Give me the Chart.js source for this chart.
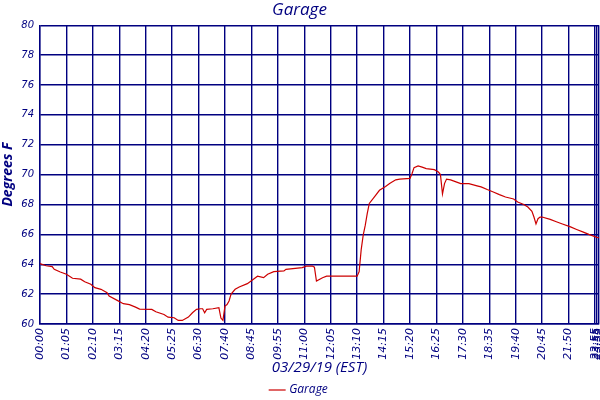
<!DOCTYPE html>
<html><head><meta charset="utf-8">
<script src="https://cdn.jsdelivr.net/npm/chart.js@4/dist/chart.umd.min.js"></script>
<style>html,body{margin:0;padding:0;background:#fff;overflow:hidden}#w{width:600px;height:400px;position:relative}canvas{display:block}</style>
</head><body><div id="w"><canvas id="c"></canvas></div>
<script>
// sample index (5-minute samples) and temperature readings
const sampleIdx = [0,3,6,7,10,13,16,20,22,25,27,30,33,34,38,41,44,47,49,55,57,61,63,66,68,70,73,75,77,79,80,81,82,85,88,89,90,91,92,93,94,96,98,102,105,107,110,112,115,120,121,129,131,134,135,136,139,141,156,157,158,159,160,161,162,165,167,170,172,175,177,182,183,184,186,188,190,194,196,197,198,199,200,202,205,207,211,215,217,220,223,226,229,233,235,238,240,242,243,244,245,246,247,251,254,257,261,264,267,270,274,275];
const tempF = [64.05,63.9,63.84,63.66,63.48,63.33,63.06,63.0,62.83,62.66,62.43,62.32,62.1,61.87,61.58,61.36,61.3,61.13,61.0,60.98,60.82,60.64,60.46,60.42,60.24,60.24,60.46,60.75,60.98,61.02,61.02,60.75,60.98,61.02,61.09,60.4,60.24,61.2,61.3,61.54,62.0,62.32,62.48,62.7,63.0,63.2,63.1,63.33,63.5,63.55,63.66,63.77,63.87,63.88,63.8,62.88,63.1,63.2,63.2,63.5,64.96,65.95,66.6,67.4,68.07,68.6,68.95,69.2,69.4,69.65,69.7,69.75,70.06,70.47,70.58,70.5,70.4,70.33,70.17,70.0,68.7,69.4,69.7,69.65,69.5,69.4,69.4,69.25,69.18,69.0,68.84,68.66,68.5,68.37,68.17,68.0,67.83,67.54,67.16,66.7,67.05,67.16,67.16,67.0,66.84,66.69,66.5,66.33,66.17,66.0,65.8,65.78];
const tickIdx = [0,13,26,39,52,65,78,91,104,117,130,143,156,169,182,195,208,221,234,247,260,273,274,275];
const tickLabels = ['00:00','01:05','02:10','03:15','04:20','05:25','06:30','07:40','08:45','09:55','11:00','12:05','13:10','14:15','15:20','16:25','17:30','18:35','19:40','20:45','21:50','22:55','23:55','23:59'];
const seriesName = 'Garage';
const chartTitle = 'Garage';
const xTitle = '03/29/19 (EST)';
const yTitle = 'Degrees F';

const NAVY = '#000080';
const fam = '"DejaVu Sans", sans-serif';
const pts = sampleIdx.map((x,i)=>({x:x,y:tempF[i]}));

new Chart(document.getElementById('c'), {
  type: 'line',
  data: { datasets: [{ label: seriesName, data: pts, borderColor: '#cc0000', backgroundColor: '#cc0000', borderWidth: 1.2, pointRadius: 0, tension: 0, fill: false }] },
  options: {
    responsive: true, maintainAspectRatio: false, animation: false,
    layout: { autoPadding: false, padding: { left: 0, right: 1, top: 0, bottom: -6 } },
    plugins: {
      title: { display: true, text: chartTitle, color: NAVY, font: { family: '"Open Sans", sans-serif', size: 17, style: 'italic', weight: 'normal' }, padding: { top: 0, bottom: 4.8 } },
      legend: { position: 'bottom', labels: { color: NAVY, usePointStyle: true, pointStyle: 'line', boxWidth: 14, boxHeight: 12, padding: 0, font: { family: '"Open Sans", sans-serif', size: 12, style: 'italic' } } },
      tooltip: { enabled: false }
    },
    scales: {
      x: {
        type: 'linear', min: 0, max: 275,
        afterBuildTicks: s => { s.ticks = tickIdx.map(v => ({ value: v })); },
        afterFit: s => { s.height = 60; s.paddingLeft = 0; s.paddingRight = 0; },
        ticks: { autoSkip: false, minRotation: 90, maxRotation: 90, padding: 4, color: NAVY, font: { family: fam, size: 11, style: 'italic' },
          callback: v => { const k = tickIdx.indexOf(v); return k >= 0 ? tickLabels[k] : ''; } },
        grid: { color: NAVY, lineWidth: 1.4, drawTicks: false },
        border: { color: NAVY, width: 1.4 },
        title: { display: true, text: xTitle, color: NAVY, font: { family: '"Open Sans", sans-serif', size: 15, style: 'italic' }, padding: { top: 0, bottom: 7 } }
      },
      y: {
        min: 60, max: 80,
        afterFit: s => { s.width = 40; s.paddingTop = 0; s.paddingBottom = 0; },
        ticks: { stepSize: 2, padding: 6, color: NAVY, font: { family: fam, size: 10, style: 'italic' } },
        grid: { color: NAVY, lineWidth: 1.4, drawTicks: false },
        border: { color: NAVY, width: 1.4 },
        title: { display: true, text: yTitle, color: NAVY, font: { family: '"Open Sans", sans-serif', size: 14, style: 'italic', weight: 'bold' }, padding: { top: 0, bottom: 2 } }
      }
    }
  }
});
</script></body></html>
